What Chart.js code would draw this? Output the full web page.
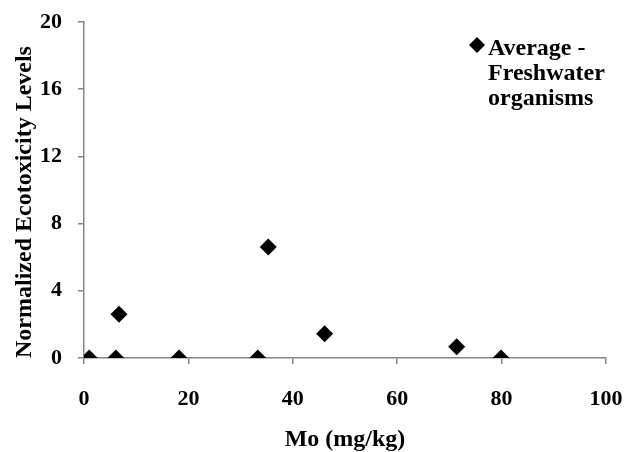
<!DOCTYPE html>
<html>
<head>
<meta charset="utf-8">
<script src="https://cdn.jsdelivr.net/npm/chart.js@4"></script>
<style>
  html, body { margin: 0; padding: 0; background: #fff; }
  #wrap { width: 629px; height: 452px; }
</style>
</head>
<body>
<div id="wrap"><canvas id="chart" width="629" height="452"></canvas></div>
<script>
// --- Data ---
const moValues = [1, 6.1, 6.7, 18.2, 33.3, 35.3, 46.1, 71.4, 79.9];
const ecoValues = [0, 0, 2.6, 0, 0, 6.6, 1.45, 0.67, 0];
const xTicks = [0, 20, 40, 60, 80, 100];
const yTicks = [0, 4, 8, 12, 16, 20];
const seriesLabel = ['Average -', 'Freshwater', 'organisms'];

const FONT = "'Liberation Serif', 'Times New Roman', serif";
const AXIS = '#868686';

// legend drawn in the plot area, text split on three lines
const legendInside = {
    id: 'legendInside',
    afterDraw(chart) {
        const ctx = chart.ctx;
        const area = chart.chartArea;
        const x = area.right - 129;
        const y = area.top + 23;
        ctx.save();
        ctx.fillStyle = '#000';
        ctx.beginPath();
        ctx.moveTo(x, y - 8);
        ctx.lineTo(x + 8, y);
        ctx.lineTo(x, y + 8);
        ctx.lineTo(x - 8, y);
        ctx.closePath();
        ctx.fill();
        ctx.font = 'bold 24px ' + FONT;
        ctx.textBaseline = 'alphabetic';
        ctx.textAlign = 'left';
        seriesLabel.forEach((line, i) => {
            ctx.fillText(line, x + 11, y + 10 + i * 25);
        });
        ctx.restore();
    }
};

const points = moValues.map((x, i) => ({ x: x, y: ecoValues[i] }));

new Chart(document.getElementById('chart'), {
    type: 'scatter',
    data: {
        datasets: [{
            label: seriesLabel.join(' '),
            data: points,
            pointStyle: 'rectRot',
            pointRadius: 8.5,
            pointHoverRadius: 8.5,
            backgroundColor: '#000',
            borderColor: '#000',
            borderWidth: 0
        }]
    },
    options: {
        responsive: false,
        animation: false,
        layout: { padding: { top: 22, right: 23, bottom: 0, left: 0 } },
        plugins: {
            legend: { display: false },
            tooltip: { enabled: false }
        },
        scales: {
            x: {
                type: 'linear',
                min: 0,
                max: 100,
                afterBuildTicks: (scale) => { scale.ticks = xTicks.map(v => ({ value: v })); },
                afterFit: (scale) => {
                    scale.height = 94;
                    scale.paddingLeft = 0;
                    scale.paddingRight = 0;
                },
                grid: { drawOnChartArea: false, color: AXIS, tickLength: 6, lineWidth: 1.5 },
                border: { color: AXIS, width: 1.5 },
                ticks: { color: '#000', font: { family: FONT, size: 22, weight: 'bold' }, padding: 22 },
                title: {
                    display: true,
                    text: 'Mo (mg/kg)',
                    color: '#000',
                    font: { family: FONT, size: 24, weight: 'bold', lineHeight: 1 },
                    padding: { top: 0, bottom: 0 }
                }
            },
            y: {
                type: 'linear',
                min: 0,
                max: 20,
                afterBuildTicks: (scale) => { scale.ticks = yTicks.map(v => ({ value: v })); },
                afterFit: (scale) => {
                    scale.width = 84;
                    scale.paddingTop = 0;
                    scale.paddingBottom = 0;
                },
                grid: { drawOnChartArea: false, color: AXIS, tickLength: 6, lineWidth: 1.5 },
                border: { color: AXIS, width: 1.5 },
                ticks: { color: '#000', font: { family: FONT, size: 22, weight: 'bold' }, padding: 16 },
                title: {
                    display: true,
                    text: 'Normalized Ecotoxicity Levels    ',
                    color: '#000',
                    font: { family: FONT, size: 24, weight: 'bold' },
                    padding: { top: 10, bottom: 0 }
                }
            }
        }
    },
    plugins: [legendInside]
});
</script>
</body>
</html>
